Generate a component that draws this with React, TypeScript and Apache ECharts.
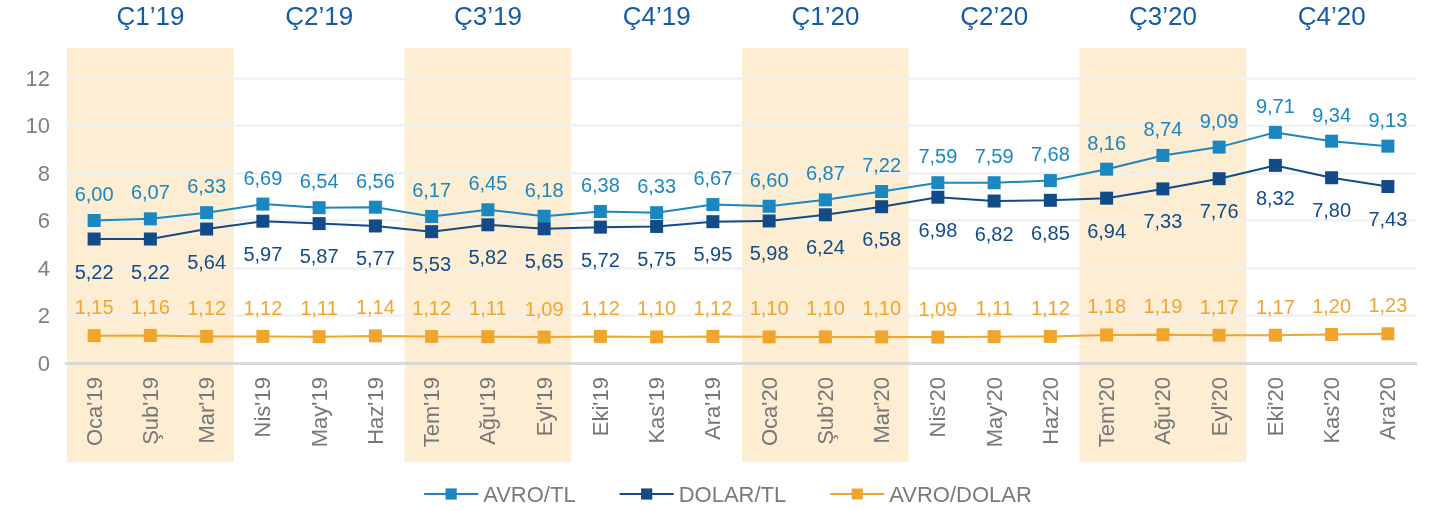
import React, { useEffect, useRef } from "react";
import * as echarts from "echarts";

const months = [
  "Oca'19", "Şub'19", "Mar'19", "Nis'19", "May'19", "Haz'19",
  "Tem'19", "Ağu'19", "Eyl'19", "Eki'19", "Kas'19", "Ara'19",
  "Oca'20", "Şub'20", "Mar'20", "Nis'20", "May'20", "Haz'20",
  "Tem'20", "Ağu'20", "Eyl'20", "Eki'20", "Kas'20", "Ara'20",
];
const quarters = ["Ç1’19", "Ç2’19", "Ç3’19", "Ç4’19", "Ç1’20", "Ç2’20", "Ç3’20", "Ç4’20"];
const shadedQuarters = [0, 2, 4, 6];

const avroTL = [6.0, 6.07, 6.33, 6.69, 6.54, 6.56, 6.17, 6.45, 6.18, 6.38, 6.33, 6.67, 6.6, 6.87, 7.22, 7.59, 7.59, 7.68, 8.16, 8.74, 9.09, 9.71, 9.34, 9.13];
const dolarTL = [5.22, 5.22, 5.64, 5.97, 5.87, 5.77, 5.53, 5.82, 5.65, 5.72, 5.75, 5.95, 5.98, 6.24, 6.58, 6.98, 6.82, 6.85, 6.94, 7.33, 7.76, 8.32, 7.8, 7.43];
const avroDolar = [1.15, 1.16, 1.12, 1.12, 1.11, 1.14, 1.12, 1.11, 1.09, 1.12, 1.1, 1.12, 1.1, 1.1, 1.1, 1.09, 1.11, 1.12, 1.18, 1.19, 1.17, 1.17, 1.2, 1.23];

const yTicks = { min: 0, max: 12, interval: 2 };

const FONT = "'Liberation Sans', Arial, Helvetica, sans-serif";
const C_AVRO = "#1b87c0";
const C_DOLAR = "#124b88";
const C_AD = "#f0a52d";

const fmt = (p: any) => Number(p.value).toFixed(2).replace(".", ",");

export default function App() {
  const ref = useRef<HTMLDivElement>(null);
  useEffect(() => {
    if (!ref.current) return;
    const chart = echarts.init(ref.current, undefined, { renderer: "svg" });
    const gridTop = 78;
    const gridBottom = 148;
    const mkSeries = (name: string, data: number[], color: string, pos: string, dist: number) => ({
      name,
      type: "line",
      data,
      symbol: "rect",
      symbolSize: 13,
      lineStyle: { color, width: 2 },
      itemStyle: { color },
      label: {
        show: true,
        position: pos,
        distance: dist,
        formatter: fmt,
        color,
        fontSize: 20,
        fontFamily: FONT,
      },
      z: 3,
    });
    chart.setOption({
      animation: false,
      textStyle: { fontFamily: FONT },
      grid: { left: 66, right: 39, top: gridTop, bottom: gridBottom },
      legend: {
        left: "center",
        top: 478,
        itemWidth: 54,
        itemHeight: 14,
        itemGap: 43,
        textStyle: { fontSize: 22, color: "#7a7a7a", fontFamily: FONT },
        data: ["AVRO/TL", "DOLAR/TL", "AVRO/DOLAR"],
      },
      xAxis: [
        {
          type: "category",
          data: months,
          boundaryGap: true,
          axisLine: { show: true, lineStyle: { color: "#d9d9d9", width: 3 } },
          axisTick: { show: false },
          axisLabel: { rotate: 90, color: "#777777", fontSize: 22, margin: 14, fontFamily: FONT },
        },
        {
          type: "category",
          data: quarters,
          position: "top",
          boundaryGap: true,
          axisLine: { show: false },
          axisTick: { show: false },
          axisLabel: { color: "#145aa5", fontSize: 26, margin: 49, fontFamily: FONT },
        },
      ],
      yAxis: {
        type: "value",
        min: yTicks.min,
        max: yTicks.max,
        interval: yTicks.interval,
        axisLine: { show: false },
        axisTick: { show: false },
        axisLabel: { color: "#808080", fontSize: 22, margin: 16, fontFamily: FONT },
        splitLine: { lineStyle: { color: "#f0f0f0", width: 2.5 } },
      },
      series: [
        mkSeries("AVRO/TL", avroTL, C_AVRO, "top", 10),
        mkSeries("DOLAR/TL", dolarTL, C_DOLAR, "bottom", 16),
        mkSeries("AVRO/DOLAR", avroDolar, C_AD, "top", 12),
      ],
    });

    const c0 = chart.convertToPixel({ xAxisIndex: 0 }, 0) as number;
    const c1 = chart.convertToPixel({ xAxisIndex: 0 }, 1) as number;
    const bw = c1 - c0;
    const rects = shadedQuarters.map((q) => {
      const first = chart.convertToPixel({ xAxisIndex: 0 }, q * 3) as number;
      const last = chart.convertToPixel({ xAxisIndex: 0 }, q * 3 + 2) as number;
      return {
        type: "rect",
        z: -10,
        silent: true,
        shape: { x: first - bw / 2 + 1, y: gridTop - 30, width: last - first + bw - 2, height: 462 - (gridTop - 30) },
        style: { fill: "#fcedd3" },
      };
    });
    chart.setOption({ graphic: rects });

    return () => chart.dispose();
  }, []);
  return <div ref={ref} style={{ position: "fixed", left: 0, top: 0, width: 1455, height: 511 }} />;
}
